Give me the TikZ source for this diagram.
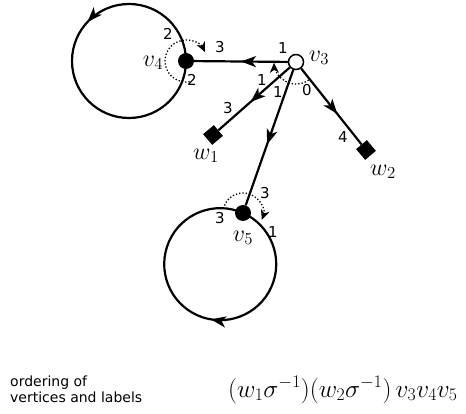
\RequirePackage{fix-cm}
\documentclass[tikz,border=0pt]{standalone}
\usepackage{fontspec}
\setsansfont{DejaVu Sans}
\usetikzlibrary{arrows.meta,decorations.markings}
\tikzset{
  edge/.style={line width=2.2pt},
  midarrow/.style={postaction={decorate},decoration={markings,mark=at position #1 with {\arrow{Stealth[length=15pt,width=11pt,inset=4pt]}}}},
  dotarc/.style={dotted, line width=1.3pt, -{Stealth[length=10pt,width=9pt,inset=3pt]}},
  lab/.style={font=\sffamily\fontsize{15}{15}\selectfont, inner sep=0pt},
  vlab/.style={font=\fontsize{24}{24}\selectfont, inner sep=0pt},
  bvert/.style={circle, fill=black, minimum size=16pt, inner sep=0pt},
  wvert/.style={circle, draw=black, fill=white, line width=1.5pt, minimum size=15pt, inner sep=0pt},
  sqvert/.style={rectangle, fill=black, minimum size=14pt, inner sep=0pt, rotate=40}
}
\begin{document}
\begin{tikzpicture}[x=1pt,y=-1pt]
\useasboundingbox (0,0) rectangle (466,414);
% vertices
\node[bvert] (v4) at (186,61) {};
\node[bvert] (v5) at (243,213) {};
\node[sqvert] (w1) at (213,135) {};
\node[sqvert] (w2) at (366,150) {};
% loops
\draw[edge, midarrow=0.38] (v4.center) arc[start angle=0, end angle=360, radius=57pt];
\draw[edge, midarrow=0.46] (v5.center) arc[start angle=66, end angle=-294, radius=56pt];
\node[wvert] (v3) at (296,62) {};
% edges
\draw[edge, midarrow=0.5] (v3) -- (v4);
\draw[edge, midarrow=0.55] (v3) -- (w1);
\draw[edge, midarrow=0.55] (v3) -- (v5);
\draw[edge, midarrow=0.6] (v3) -- (w2);
% dotted rotation arcs
\draw[dotarc] ([shift={(-80:21pt)}]v4.center) arc[start angle=-80, end angle=-335, radius=21pt];
\draw[dotarc] ([shift={(158:20pt)}]v5.center) arc[start angle=158, end angle=-20, radius=20pt];
\draw[dotarc] ([shift={(-55:22pt)}]v3.center) arc[start angle=-55, end angle=-178, radius=22pt];
% half-edge labels
\node[lab] (a1) at (283,48) {1};
\node[lab] (a2) at (262,80) {1};
\node[lab] (a3) at (278,92) {1};
\node[lab] (a4) at (307,90) {0};
\node[lab] (a5) at (228,108) {3};
\node[lab] (a6) at (343,137) {4};
\node[lab] (a7) at (220,47) {3};
\node[lab] (a8) at (168,34) {2};
\node[lab] (a9) at (192,80) {2};
\node[lab] (a10) at (220,218) {3};
\node[lab] (a11) at (265,193) {3};
\node[lab] (a12) at (273,232) {1};
% vertex labels
\node[vlab] (lv4) at (153,63) {$v_4$};
\node[vlab] (lv3) at (319,58) {$v_3$};
\node[vlab] (lv5) at (243,238) {$v_5$};
\node[vlab] (lw1) at (206,156) {$w_1$};
\node[vlab] (lw2) at (383,172) {$w_2$};
% bottom
\node[font=\sffamily\fontsize{14}{16}\selectfont, align=left, anchor=west, inner sep=0pt] (ord) at (10,389) {ordering of\\vertices and labels};
\node[font=\fontsize{25.3}{26}\selectfont, anchor=west, inner sep=0pt] (seq) at (228,390) {$(w_1\sigma^{-1})(w_2\sigma^{-1})\,v_3v_4v_5$};
\end{tikzpicture}
\end{document}
